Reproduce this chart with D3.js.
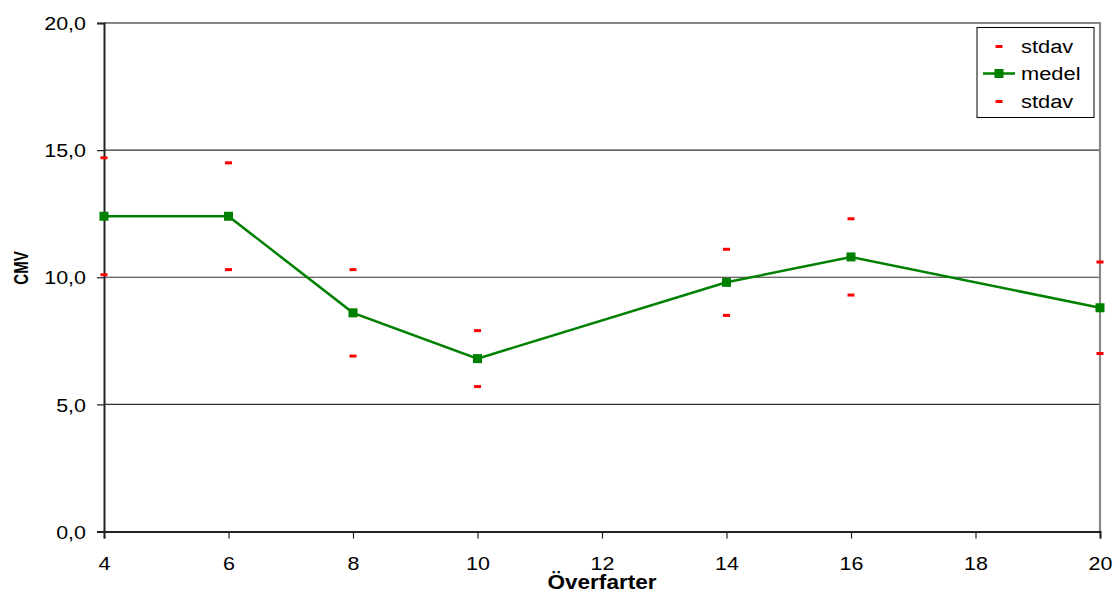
<!DOCTYPE html>
<html><head><meta charset="utf-8">
<script src="https://cdn.jsdelivr.net/npm/d3@7"></script>
<style>html,body{margin:0;padding:0;background:#fff}svg{display:block}text{font-family:"Liberation Sans",Arial,sans-serif}</style>
</head><body>
<svg id="c" width="1117" height="593"></svg>
<script>
const xValues = [4, 6, 8, 10, 14, 16, 20];
const medel = [12.4, 12.4, 8.6, 6.8, 9.8, 10.8, 8.8];
const stdavUpper = [14.7, 14.5, 10.3, 7.9, 11.1, 12.3, 10.6];
const stdavLower = [10.1, 10.3, 6.9, 5.7, 8.5, 9.3, 7.0];
const xTicks = [4, 6, 8, 10, 12, 14, 16, 18, 20];
const yTicks = [0, 5, 10, 15, 20];
const legendLabels = ["stdav", "medel", "stdav"];

const svg = d3.select("#c");
const L = 104, R = 1100, T = 23, B = 531.5;
const x = d3.scaleLinear().domain([4, 20]).range([L, R]);
const y = d3.scaleLinear().domain([0, 20]).range([B, T]);
const fmt = d => d3.format(".1f")(d).replace(".", ",");
const SX = 1.13;

// gridlines
svg.append("g").selectAll("line").data(yTicks.filter(d => d > 0 && d < 20)).join("line")
  .attr("x1", L).attr("x2", R).attr("y1", d => y(d)).attr("y2", d => y(d))
  .attr("stroke", "#333").attr("stroke-width", 1.2);
// top and right border
svg.append("line").attr("x1", L).attr("x2", R + 1).attr("y1", T).attr("y2", T).attr("stroke", "#888").attr("stroke-width", 2.2);
svg.append("line").attr("x1", R).attr("x2", R).attr("y1", T).attr("y2", B).attr("stroke", "#888").attr("stroke-width", 2.2);

// axes
const yAxis = svg.append("g").attr("transform", `translate(${L},0)`)
  .call(d3.axisLeft(y).tickValues(yTicks).tickSize(7).tickPadding(0).tickFormat(fmt));
yAxis.select(".domain").attr("stroke", "#222").attr("stroke-width", 2);
yAxis.selectAll(".tick line").attr("stroke", "#222").attr("stroke-width", 1.2);
yAxis.selectAll(".tick text").attr("font-size", 19).attr("fill", "#000")
  .attr("x", 0).attr("dy", "0.35em")
  .attr("transform", `translate(-18,0) scale(${SX},1)`)
  .attr("font-family", "Liberation Sans, Arial, sans-serif");

const xAxis = svg.append("g").attr("transform", `translate(0,${B})`)
  .call(d3.axisBottom(x).tickValues(xTicks).tickSize(7).tickPadding(0).tickFormat(d3.format("d")));
xAxis.select(".domain").attr("stroke", "#222").attr("stroke-width", 2);
xAxis.selectAll(".tick line").attr("stroke", "#222").attr("stroke-width", 1.2);
xAxis.selectAll(".tick text").attr("font-size", 19).attr("fill", "#000")
  .attr("y", 0).attr("dy", 0)
  .attr("transform", `translate(0,38) scale(${SX},1)`)
  .attr("font-family", "Liberation Sans, Arial, sans-serif");

// axis titles
svg.append("text").attr("transform", `translate(${(L + R) / 2},589) scale(${SX},1)`)
  .attr("text-anchor", "middle").attr("font-weight", "bold").attr("font-size", 20).text("Överfarter");
svg.append("text").attr("transform", `translate(28,268) rotate(-90) scale(1,1.3)`)
  .attr("text-anchor", "middle").attr("font-weight", "bold").attr("font-size", 15).text("CMV");

// series
const pts = xValues.map((v, i) => ({x: v, m: medel[i], u: stdavUpper[i], l: stdavLower[i]}));
svg.append("path").datum(pts)
  .attr("d", d3.line().x(d => x(d.x)).y(d => y(d.m)))
  .attr("fill", "none").attr("stroke", "#008000").attr("stroke-width", 2.5);
svg.append("g").selectAll("rect").data(pts).join("rect")
  .attr("x", d => x(d.x) - 4.5).attr("y", d => y(d.m) - 4.5).attr("width", 9).attr("height", 9)
  .attr("fill", "#008000");
const dash = (sel, key) => sel.selectAll("rect").data(pts).join("rect")
  .attr("x", d => x(d.x) - 3.5).attr("y", d => y(d[key]) - 1.5).attr("width", 7).attr("height", 3)
  .attr("fill", "#ff0000");
dash(svg.append("g"), "u");
dash(svg.append("g"), "l");

// legend
const lg = svg.append("g");
lg.append("rect").attr("x", 977).attr("y", 27.5).attr("width", 117).attr("height", 90)
  .attr("fill", "#fff").attr("stroke", "#000").attr("stroke-width", 1);
const rowsY = [46.5, 73.5, 101.5];
legendLabels.forEach((lab, i) => {
  const cy = rowsY[i];
  if (lab === "medel") {
    lg.append("line").attr("x1", 983).attr("x2", 1015).attr("y1", cy).attr("y2", cy)
      .attr("stroke", "#008000").attr("stroke-width", 2.5);
    lg.append("rect").attr("x", 999 - 4.5).attr("y", cy - 4.5).attr("width", 9).attr("height", 9).attr("fill", "#008000");
  } else {
    lg.append("rect").attr("x", 999 - 3.5).attr("y", cy - 1.5).attr("width", 7).attr("height", 3).attr("fill", "#ff0000");
  }
  lg.append("text").attr("transform", `translate(1021,${cy}) scale(1.15,1)`).attr("dy", "0.35em")
    .attr("font-size", 19).attr("fill", "#000").text(lab);
});
</script>
</body></html>
